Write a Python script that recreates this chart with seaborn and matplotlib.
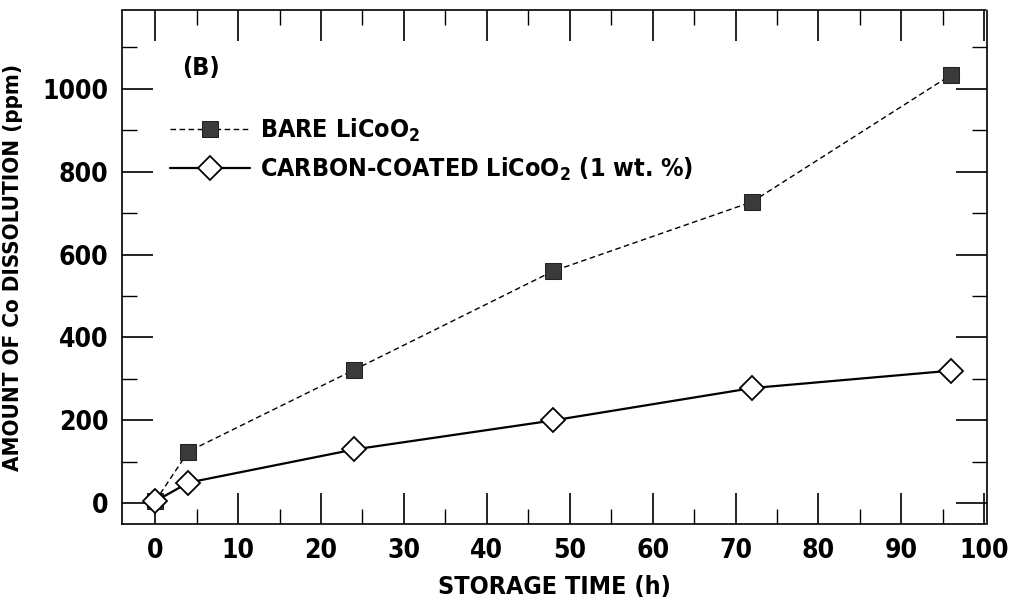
import matplotlib
matplotlib.use("Agg")
import matplotlib.pyplot as plt
import seaborn as sns
import pandas as pd
from matplotlib.ticker import MultipleLocator

hours = [0, 4, 24, 48, 72, 96]
bare = [5, 125, 322, 560, 727, 1033]
coated = [5, 50, 130, 200, 278, 320]

sns.set_style("ticks")
plt.rcParams['font.family'] = ['DejaVu Sans']
plt.rcParams['font.stretch'] = 'condensed'
plt.rcParams['font.weight'] = 'bold'
plt.rcParams['axes.labelweight'] = 'bold'
plt.rcParams['mathtext.default'] = 'regular'
for k in ['text.color', 'axes.labelcolor', 'xtick.color', 'ytick.color', 'axes.edgecolor']:
    plt.rcParams[k] = 'black'

fig = plt.figure(figsize=(10.12, 6.13), dpi=100)
ax = fig.add_axes([0.1206, 0.145, 0.8544, 0.839])

df_bare = pd.DataFrame({'t': hours, 'v': bare})
df_coat = pd.DataFrame({'t': hours, 'v': coated})

sns.lineplot(data=df_bare, x='t', y='v', ax=ax, color='black', lw=1.0,
             linestyle=(0, (4, 2.5)), marker='s', markersize=11,
             markerfacecolor='#3a3a3a', markeredgecolor='#222222',
             label='BARE LiCoO$_2$')
sns.lineplot(data=df_coat, x='t', y='v', ax=ax, color='black', lw=1.6,
             marker='D', markersize=12, markerfacecolor='white',
             markeredgecolor='black', markeredgewidth=1.3,
             label='CARBON-COATED LiCoO$_2$ (1 wt. %)')

ax.set_xlim(-4, 100.3)
ax.set_ylim(-50, 1190)
ax.xaxis.set_major_locator(MultipleLocator(10))
ax.xaxis.set_minor_locator(MultipleLocator(5))
ax.yaxis.set_major_locator(MultipleLocator(200))
ax.yaxis.set_minor_locator(MultipleLocator(100))
ax.tick_params(which='major', direction='in', length=22, width=1.2,
               top=True, right=True, labelsize=19, pad=10)
ax.tick_params(which='minor', direction='in', length=11, width=1.0,
               top=True, right=True)
for s in ax.spines.values():
    s.set_linewidth(1.2)
    s.set_linestyle((0, (2, 1)))

ax.set_xlabel('STORAGE TIME (h)', fontsize=18, labelpad=8)
ax.set_ylabel('AMOUNT OF Co DISSOLUTION (ppm)', fontsize=16, labelpad=14)
ax.text(0.069, 0.887, '(B)', transform=ax.transAxes, fontsize=18,
        fontweight='bold', va='center')

leg = ax.legend(loc='upper left', bbox_to_anchor=(0.03, 0.835), frameon=False,
                fontsize=18, handlelength=3.2, labelspacing=0.45,
                handletextpad=0.4)

fig.savefig('out.png', dpi=100)
